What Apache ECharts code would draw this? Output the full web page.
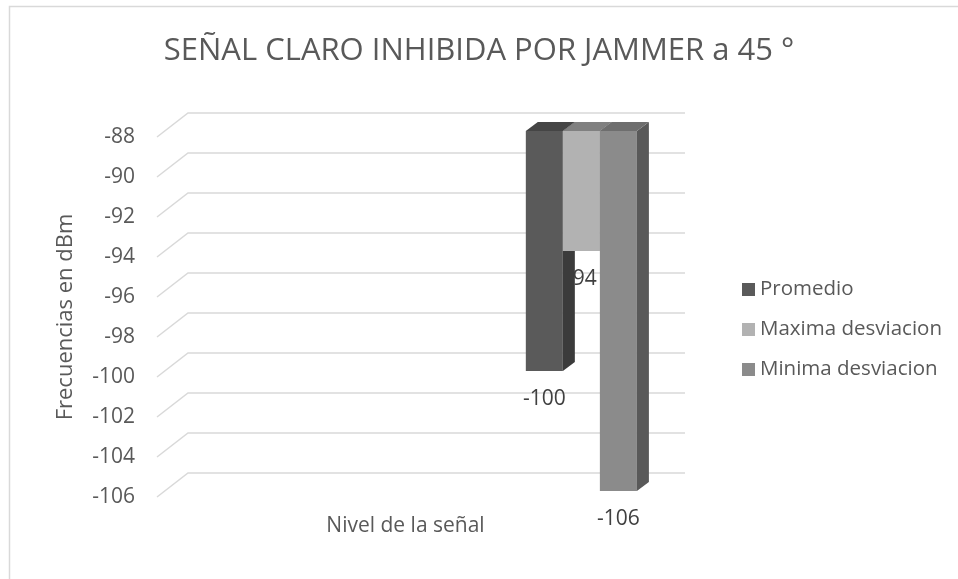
<!DOCTYPE html>
<html>
<head>
<meta charset="utf-8">
<script src="https://cdn.jsdelivr.net/npm/echarts@6/dist/echarts.min.js"></script>
<style>
  html, body { margin: 0; padding: 0; background: #fff; }
  #chart { width: 958px; height: 579px; }
</style>
</head>
<body>
<div id="chart"></div>
<script>
// ---- datos ----
var categories = ['Nivel de la señal'];
var seriesNames = ['Promedio', 'Maxima desviacion', 'Minima desviacion'];
var promedio = [-100];
var maxima = [-94];
var minima = [-106];
var yTicks = [-88, -90, -92, -94, -96, -98, -100, -102, -104, -106];

var Y_MIN = -106, Y_MAX = -88;
var FONT = '"Open Sans", sans-serif';

// profundidad del "3D" (pared del fondo) y de las barras
var WALL_DX = 31, WALL_DY = -24;
var BAR_OFF_X = 8, BAR_OFF_Y = -6;
var BAR_DX = 12, BAR_DY = -9;
var GROUP_START = 0.726, BAR_FRAC = 0.0745;

var faces = [
  { front: '#5a5a5a', side: '#3b3b3b', top: '#454545' },
  { front: '#b2b2b2', side: '#8a8a8a', top: '#808080' },
  { front: '#8b8b8b', side: '#595959', top: '#6e6e6e' }
];

function gridRender(params, api) {
  var cs = params.coordSys;
  var y = api.coord([0, api.value(0)])[1];
  var x0 = cs.x, x1 = cs.x + cs.width;
  return {
    type: 'polyline',
    shape: { points: [[x0, y], [x0 + WALL_DX, y + WALL_DY], [x1 + WALL_DX, y + WALL_DY]] },
    style: { stroke: '#d9d9d9', lineWidth: 1.5, fill: null }
  };
}

function makeBar(i) {
  return function (params, api) {
    var v = api.value(1);
    var base = api.coord([api.value(0), Y_MAX]);
    var end = api.coord([api.value(0), v]);
    var bw = api.size([1, 0])[0];
    var w = bw * BAR_FRAC;
    var x0 = base[0] - bw / 2 + bw * (GROUP_START + i * BAR_FRAC) + BAR_OFF_X;
    var yT = base[1] + BAR_OFF_Y, yB = end[1] + BAR_OFF_Y;
    var c = faces[i];
    return {
      type: 'group',
      children: [
        { type: 'text', z2: 1,
          style: { x: x0 + w / 2, y: yB + 28, text: String(v), align: 'center', verticalAlign: 'middle',
                   fill: '#404040', font: '21px ' + FONT } },
        { type: 'rect', z2: 10, shape: { x: x0, y: yT, width: w, height: yB - yT },
          style: { fill: c.front } },
        { type: 'polygon', z2: 10,
          shape: { points: [[x0 + w, yT], [x0 + w + BAR_DX, yT + BAR_DY], [x0 + w + BAR_DX, yB + BAR_DY], [x0 + w, yB]] },
          style: { fill: c.side } },
        { type: 'polygon', z2: 10,
          shape: { points: [[x0, yT], [x0 + w, yT], [x0 + w + BAR_DX, yT + BAR_DY], [x0 + BAR_DX, yT + BAR_DY]] },
          style: { fill: c.top } }
      ]
    };
  };
}

var seriesData = [promedio, maxima, minima];
var series = [{
  type: 'custom',
  name: '_grid',
  z: 1,
  silent: true,
  renderItem: gridRender,
  encode: { y: 0 },
  data: yTicks.map(function (t) { return [t]; })
}];
seriesData.forEach(function (vals, i) {
  series.push({
    type: 'custom',
    name: seriesNames[i],
    z: 2,
    itemStyle: { color: faces[i].front },
    renderItem: makeBar(i),
    encode: { x: 0, y: 1 },
    data: vals.map(function (v, k) { return [k, v]; })
  });
});

var chart = echarts.init(document.getElementById('chart'));
var option = {
  backgroundColor: '#fff',
  animation: false,
  textStyle: { fontFamily: FONT },
  title: {
    text: 'SEÑAL CLARO INHIBIDA POR JAMMER a 45 °',
    left: 'center',
    top: 31,
    textStyle: { fontFamily: FONT, fontSize: 31, fontWeight: 'normal', color: '#595959' }
  },
  legend: {
    orient: 'vertical',
    left: 737,
    top: 274,
    itemWidth: 13,
    itemHeight: 13,
    itemGap: 19,
    icon: 'rect',
    data: seriesNames,
    textStyle: { fontFamily: FONT, fontSize: 20.5, color: '#595959' }
  },
  grid: { left: 157, top: 137, width: 497, height: 360, containLabel: false },
  xAxis: {
    type: 'category',
    data: categories,
    axisLine: { show: false },
    axisTick: { show: false },
    axisLabel: { margin: 19, fontSize: 21, color: '#595959', fontFamily: FONT },
    splitLine: { show: false }
  },
  yAxis: {
    type: 'value',
    min: Y_MIN,
    max: Y_MAX,
    interval: 2,
    name: 'Frecuencias en dBm',
    nameLocation: 'middle',
    nameGap: 80,
    nameTextStyle: { fontSize: 22, color: '#595959', fontFamily: FONT },
    axisLine: { show: false },
    axisTick: { show: false },
    splitLine: { show: false },
    axisLabel: { margin: 22, fontSize: 21, color: '#595959', fontFamily: FONT }
  },
  graphic: [{
    type: 'rect',
    shape: { x: 9.5, y: 6.5, width: 1000, height: 1000 },
    style: { fill: null, stroke: '#d9d9d9', lineWidth: 1.5 },
    silent: true
  }],
  series: series
};
chart.setOption(option);
</script>
</body>
</html>
